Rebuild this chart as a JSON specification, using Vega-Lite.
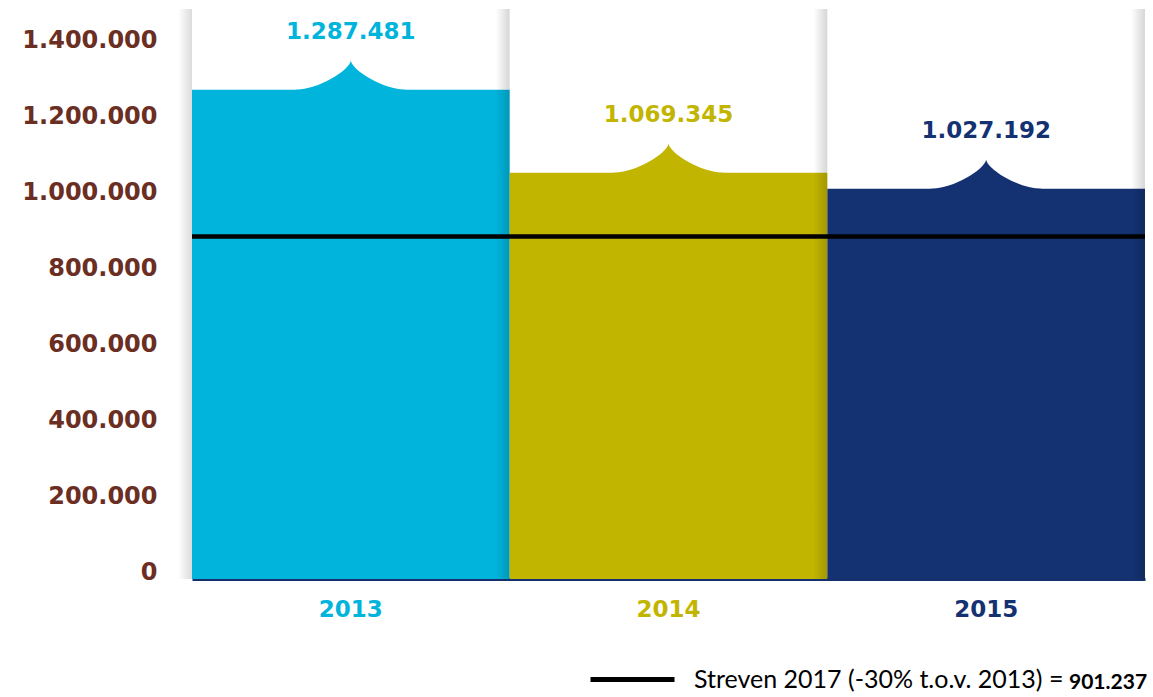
{
  "$schema": "https://vega.github.io/schema/vega-lite/v6.json",
  "width": 953,
  "height": 570,
  "autosize": {"type": "none"},
  "padding": {"left": 192, "top": 9, "right": 8, "bottom": 118},
  "config": {
    "view": {"stroke": null},
    "locale": {"number": {"decimal": ",", "thousands": ".", "grouping": [3], "currency": ["€", ""]}}
  },
  "datasets": {
    "bars": [
      {"year": "2013", "value": 1287481},
      {"year": "2014", "value": 1069345},
      {"year": "2015", "value": 1027192}
    ],
    "target": [
      {"label": "Streven 2017 (-30% t.o.v. 2013) =", "value": 901237}
    ]
  },
  "encoding": {
    "x": {
      "field": "year", "type": "nominal", "sort": null,
      "scale": {"paddingInner": 0, "paddingOuter": 0},
      "axis": {
        "title": null, "labelAngle": 0, "ticks": false,
        "domainColor": "#14306F", "domainWidth": 3,
        "labelFont": "DejaVu Sans", "labelFontWeight": "bold", "labelFontSize": 23,
        "labelBaseline": "alphabetic", "labelPadding": 37,
        "labelColor": {"condition": [
          {"test": "datum.value == '2013'", "value": "#00B4DC"},
          {"test": "datum.value == '2014'", "value": "#C2B500"}
        ], "value": "#143272"}
      }
    }
  },
  "layer": [
    {
      "data": {"name": "bars"},
      "mark": {"type": "bar", "cornerRadius": 0},
      "encoding": {
        "y": {
          "field": "value", "type": "quantitative",
          "scale": {"domain": [0, 1500000], "nice": false},
          "axis": {
            "title": null, "domain": false, "ticks": false, "grid": false,
            "values": [0, 200000, 400000, 600000, 800000, 1000000, 1200000, 1400000],
            "format": ",d",
            "labelFont": "DejaVu Sans", "labelFontWeight": "bold", "labelFontSize": 24,
            "labelColor": "#6B2E22", "labelBaseline": "alphabetic", "labelPadding": 35
          }
        },
        "color": {
          "field": "year", "type": "nominal",
          "scale": {"domain": ["2013", "2014", "2015"], "range": ["#00B4DC", "#C2B500", "#143272"]},
          "legend": null
        }
      }
    },
    {
      "data": {"name": "bars"},
      "mark": {
        "type": "point", "filled": true, "opacity": 1, "strokeWidth": 0, "size": 12100,
        "shape": "M -1 0 C -0.6 0 -0.02 -0.35 0 -0.53 C 0.02 -0.35 0.6 0 1 0 L 1 0.08 L -1 0.08 Z"
      },
      "encoding": {
        "y": {"field": "value", "type": "quantitative"},
        "color": {"field": "year", "type": "nominal", "legend": null}
      }
    },
    {
      "data": {"name": "bars"},
      "mark": {
        "type": "bar", "width": 14, "xOffset": 151.8,
        "fill": {"gradient": "linear", "x1": 0, "x2": 1, "y1": 0, "y2": 0,
          "stops": [{"offset": 0, "color": "rgba(0,0,0,0)"}, {"offset": 1, "color": "rgba(0,0,0,0.16)"}]}
      },
      "encoding": {
        "y": {"datum": 1500000},
        "y2": {"datum": 0}
      }
    },
    {
      "data": {"name": "bars"},
      "transform": [{"filter": "datum.year == '2013'"}],
      "mark": {
        "type": "bar", "width": 14, "xOffset": -165.8,
        "fill": {"gradient": "linear", "x1": 0, "x2": 1, "y1": 0, "y2": 0,
          "stops": [{"offset": 0, "color": "rgba(0,0,0,0)"}, {"offset": 1, "color": "rgba(0,0,0,0.14)"}]}
      },
      "encoding": {
        "y": {"datum": 1500000},
        "y2": {"datum": 0}
      }
    },
    {
      "data": {"name": "bars"},
      "mark": {"type": "text", "dy": -51, "baseline": "alphabetic", "align": "center",
        "font": "DejaVu Sans", "fontWeight": "bold", "fontSize": 23},
      "encoding": {
        "y": {"field": "value", "type": "quantitative"},
        "text": {"field": "value", "type": "quantitative", "format": ",d"},
        "color": {"field": "year", "type": "nominal", "legend": null}
      }
    },
    {
      "data": {"name": "target"},
      "mark": {"type": "rule", "strokeWidth": 4.5},
      "encoding": {
        "x": null,
        "y": {"field": "value", "type": "quantitative"},
        "stroke": {
          "field": "label", "type": "nominal",
          "scale": {"range": ["#000000"]},
          "legend": {
            "orient": "none", "legendX": 396, "legendY": 626,
            "title": "901.237", "titleOrient": "right",
            "titleAnchor": "end", "titleBaseline": "bottom",
            "titleFont": "Lato", "titleFontSize": 21, "titleFontWeight": "bold", "titleColor": "#000000",
            "titlePadding": 6,
            "labelFont": "Lato", "labelFontSize": 25, "labelColor": "#000000", "labelOffset": 17,
            "labelLimit": 600,
            "symbolType": "stroke", "symbolSize": 7056, "symbolStrokeWidth": 5,
            "padding": 0
          }
        }
      }
    }
  ]
}
